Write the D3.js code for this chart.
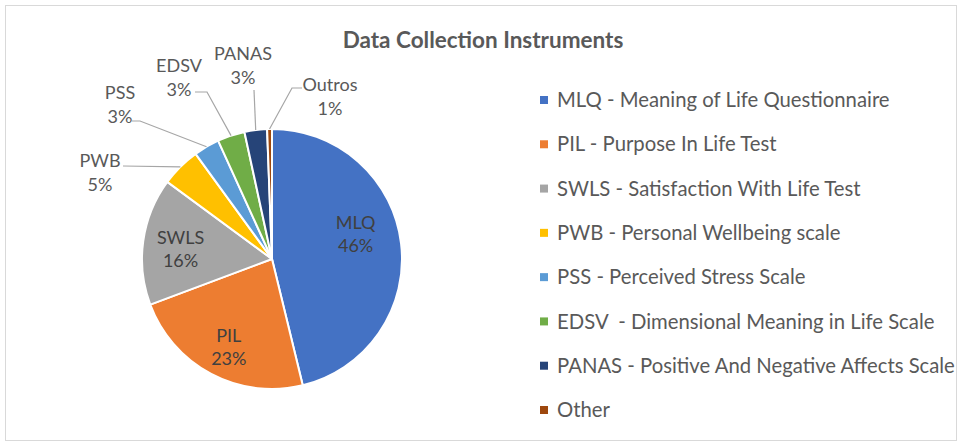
<!DOCTYPE html>
<html>
<head>
<meta charset="utf-8">
<script src="https://cdn.jsdelivr.net/npm/d3@7"></script>
<style>
  html, body { margin: 0; padding: 0; background: #fff; }
  svg { display: block; font-family: Lato, "Open Sans", sans-serif; }
  text { white-space: pre; }
</style>
</head>
<body>
<svg id="chart" width="960" height="444"></svg>
<script>
// data (percent of studies)
const codes = ['MLQ', 'PIL', 'SWLS', 'PWB', 'PSS', 'EDSV', 'PANAS', 'Outros']
const shares = [46.2, 23.1, 15.8, 4.9, 3.2, 3.4, 2.8, 0.6]
const legendNames = [
  'MLQ - Meaning of Life Questionnaire',
  'PIL - Purpose In Life Test',
  'SWLS - Satisfaction With Life Test',
  'PWB - Personal Wellbeing scale',
  'PSS - Perceived Stress Scale',
  'EDSV  - Dimensional Meaning in Life Scale',
  'PANAS - Positive And Negative Affects Scale',
  'Other'
]
const colors = ['#4472C4', '#ED7D31', '#A5A5A5', '#FFC000', '#5B9BD5', '#70AD47', '#264478', '#9E480E']

const data = codes.map((c, i) => ({code: c, value: shares[i], name: legendNames[i]}))

const svg = d3.select('#chart')

// chart frame
svg.append('rect')
  .attr('x', 5.5).attr('y', 5.5)
  .attr('width', 951).attr('height', 435)
  .attr('fill', '#fff')
  .attr('stroke', '#d9d9d9')
  .attr('stroke-width', 1)

svg.append('text')
  .attr('x', 483).attr('y', 48)
  .attr('text-anchor', 'middle')
  .attr('font-size', 22.5)
  .attr('font-weight', 'bold')
  .attr('fill', '#595959')
  .text('Data Collection Instruments')

const cx = 272, cy = 259, R = 130
const g = svg.append('g').attr('transform', `translate(${cx},${cy})`)

const pie = d3.pie().value(d => d.value).sort(null)
const arcs = pie(data)
const arc = d3.arc().innerRadius(0).outerRadius(R)
const color = d3.scaleOrdinal().domain(codes).range(colors)

g.selectAll('path.slice')
  .data(arcs)
  .join('path')
  .attr('class', 'slice')
  .attr('d', arc)
  .attr('fill', d => color(d.data.code))
  .attr('stroke', '#fff')
  .attr('stroke-width', 2)
  .attr('stroke-linejoin', 'round')

const pct = v => Math.round(v) + '%'
const labelSize = 18

// big slices: labels inside
const inner = arcs.slice(0, 3)
const innerArc = d3.arc().innerRadius(0).outerRadius(R * 1.42)
const nudge = {MLQ: [-8, -14], PIL: [0, 6], SWLS: [0, 3]}
const innerLab = g.selectAll('text.inner')
  .data(inner)
  .join('text')
  .attr('class', 'inner')
  .attr('text-anchor', 'middle')
  .attr('font-size', labelSize)
  .attr('fill', '#404040')
  .attr('transform', d => {
    const [x, y] = innerArc.centroid(d)
    const n = nudge[d.data.code]
    return `translate(${x + n[0]},${y + n[1]})`
  })
innerLab.append('tspan').attr('x', 0).attr('dy', -5).text(d => d.data.code)
innerLab.append('tspan').attr('x', 0).attr('dy', 23).text(d => pct(d.data.value))

// small slices: labels outside with leader lines
// label centre, attach point near the text and the knee of the line (relative to pie centre)
const outerSpots = {
  PWB:    {text: [-172, -87], attach: [-149, -93], knee: [-149, -93]},
  PSS:    {text: [-152, -155], attach: [-140, -138], knee: [-132, -138]},
  EDSV:   {text: [-93, -182], attach: [-77, -167], knee: [-65, -167]},
  PANAS:  {text: [-29, -194], attach: [-18, -169], knee: [-18, -169]},
  Outros: {text: [58, -163], attach: [30, -171], knee: [20, -171]}
}
const outer = arcs.slice(3)
const edge = d3.arc().innerRadius(R).outerRadius(R)

g.selectAll('polyline.leader')
  .data(outer)
  .join('polyline')
  .attr('class', 'leader')
  .attr('fill', 'none')
  .attr('stroke', '#a6a6a6')
  .attr('stroke-width', 1.2)
  .attr('points', d => {
    const s = outerSpots[d.data.code]
    const e = edge.centroid(d)
    return [s.attach, s.knee, e].map(p => p.join(',')).join(' ')
  })

const outerLab = g.selectAll('text.outer')
  .data(outer)
  .join('text')
  .attr('class', 'outer')
  .attr('text-anchor', 'middle')
  .attr('font-size', labelSize)
  .attr('fill', '#595959')
  .attr('transform', d => `translate(${outerSpots[d.data.code].text})`)
outerLab.append('tspan').attr('x', 0).attr('dy', -5).text(d => d.data.code)
outerLab.append('tspan').attr('x', 0).attr('dy', 24).text(d => pct(d.data.value))

// legend
const ly = d3.scalePoint().domain(codes).range([100, 410])
const leg = svg.append('g').selectAll('g')
  .data(data)
  .join('g')
  .attr('transform', d => `translate(540,${ly(d.code)})`)
leg.append('rect')
  .attr('x', 0).attr('y', -4)
  .attr('width', 8).attr('height', 8)
  .attr('fill', d => color(d.code))
leg.append('text')
  .attr('x', 17).attr('y', 0)
  .attr('dy', '0.35em')
  .attr('font-size', 20.3)
  .attr('fill', '#595959')
  .text(d => d.name)
</script>
</body>
</html>
